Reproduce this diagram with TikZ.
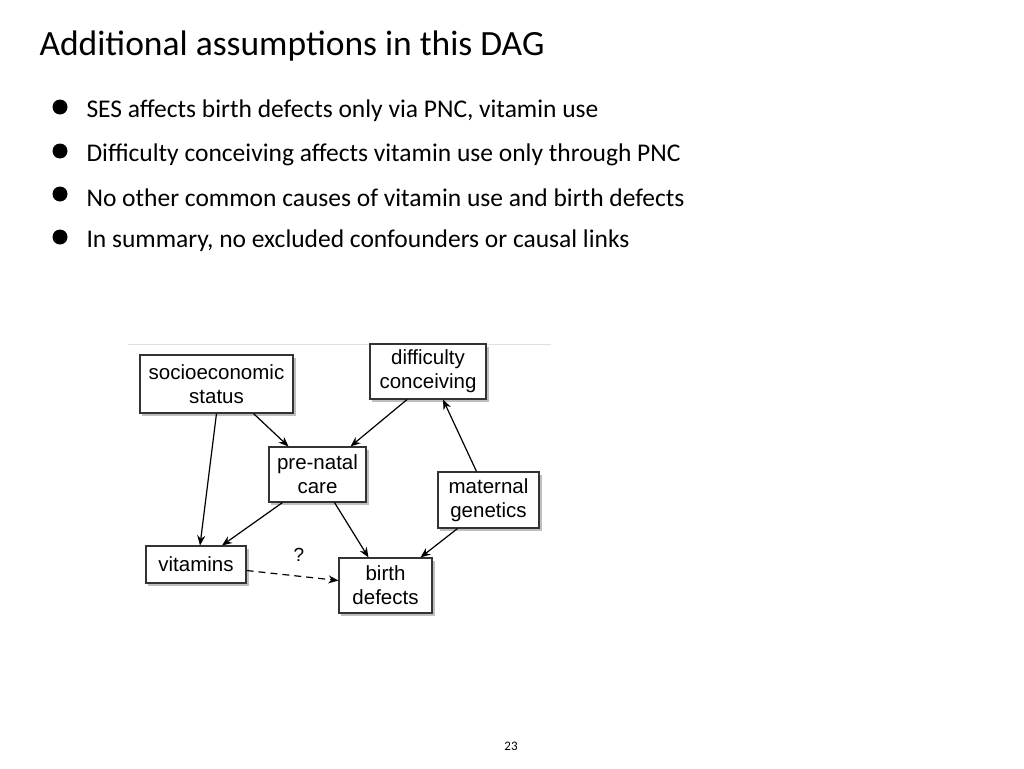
\documentclass[tikz,border=0pt]{standalone}
\usepackage{fontspec}
\setmainfont{Carlito}
\newfontfamily\diagfont{Liberation Sans}
\usetikzlibrary{calc,arrows.meta}
\begin{document}
\begin{tikzpicture}[x=1pt,y=-1pt,
  box/.style={draw=black!80,fill=white,line width=1.1pt,align=center,font=\diagfont\fontsize{20.5}{24}\selectfont,inner sep=0pt},
  arr/.style={-{Stealth[length=10pt,width=8pt]},line width=1.2pt},
  bul/.style={anchor=west,font=\fontsize{25.5}{30}\selectfont}]
\useasboundingbox (0,0) rectangle (1024,768);
\node[anchor=west,font=\fontsize{35.5}{40}\selectfont] (title) at (36,46) {Additional assumptions in this DAG};
\foreach \y in {111,155,198,241}{
  \fill (60,\y-4) circle (7.5);
}
\node[bul] (b1) at (83,111) {SES affects birth defects only via PNC, vitamin use};
\node[bul] (b2) at (83,155) {Difficulty conceiving affects vitamin use only through PNC};
\node[bul] (b3) at (83,198) {No other common causes of vitamin use and birth defects};
\node[bul] (b4) at (83,241) {In summary, no excluded confounders or causal links};
\draw[black!12,line width=1pt] (128,344) -- (551,344);
\foreach \a/\b/\c/\d in {140/355/293/413,370/344/486/399,269/447/366/502,438/472/539/528,146/546/246/583,339/558/432/613}{
  \fill[black!25] (\a+2,\b+3) rectangle (\c+3,\d+3);
}
\node[box,minimum width=153,minimum height=58] (ses) at (216.5,384) {socioeconomic\\status};
\node[box,minimum width=116,minimum height=55] (dc) at (428,371.5) {difficulty\\conceiving};
\node[box,minimum width=97,minimum height=55] (pnc) at (317.5,474.5) {pre-natal\\care};
\node[box,minimum width=101,minimum height=56] (mg) at (488.5,500) {maternal\\genetics};
\node[box,minimum width=100,minimum height=37] (vit) at (196,564.5) {vitamins};
\node[box,minimum width=93,minimum height=55] (bd) at (385.5,585.5) {birth\\defects};
\node[font=\diagfont\fontsize{19}{22}\selectfont] (q) at (299,555) {?};
\draw[arr] ($(ses.south)+(0,0)$) -- ($(vit.north)+(4,0)$);
\draw[arr] ($(ses.south)+(37,0)$) -- ($(pnc.north)+(-29,0)$);
\draw[arr] ($(dc.south)+(-21,0)$) -- ($(pnc.north)+(33,0)$);
\draw[arr] ($(mg.north)+(-12,0)$) -- ($(dc.south)+(15,0)$);
\draw[arr] ($(pnc.south)+(-35,0)$) -- ($(vit.north)+(26,0)$);
\draw[arr] ($(pnc.south)+(17,0)$) -- ($(bd.north)+(-17,0)$);
\draw[arr] ($(mg.south)+(-31,0)$) -- ($(bd.north)+(35,0)$);
\draw[arr,dash pattern=on 7pt off 5pt] ($(vit.east)+(0,6)$) -- ($(bd.west)+(0,-5)$);
\node[font=\fontsize{13}{15}\selectfont] (pg) at (511,746) {23};
\end{tikzpicture}
\end{document}
